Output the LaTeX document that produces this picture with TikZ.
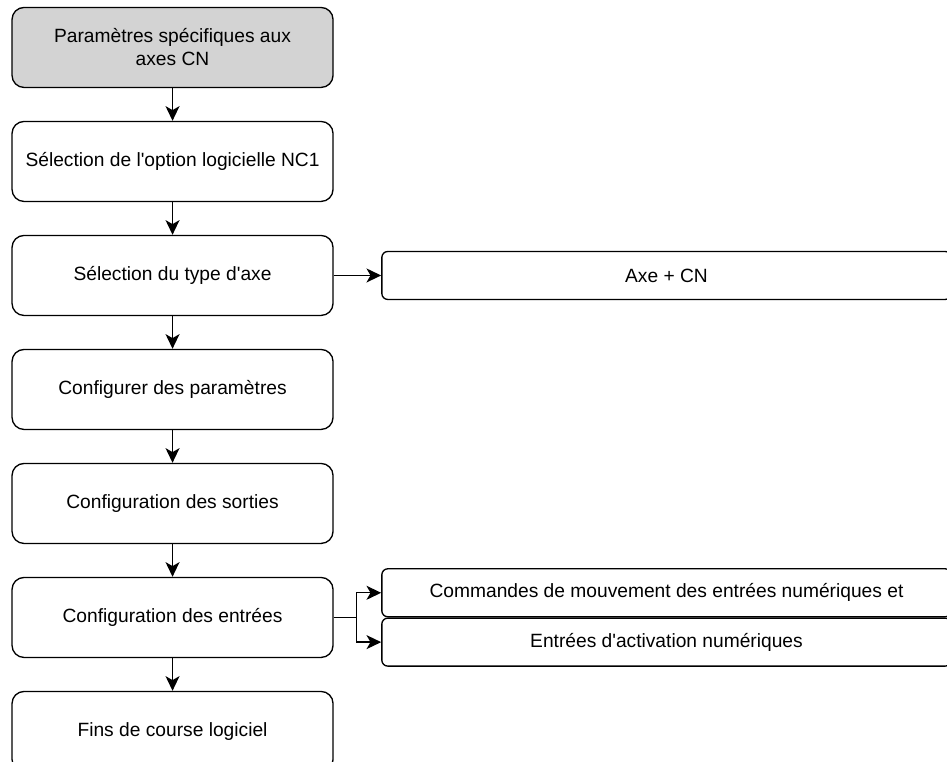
\documentclass[tikz,border=0pt]{standalone}
\usepackage{fontspec}
\setmainfont{Liberation Sans}
\usepackage{tikz}
\usetikzlibrary{positioning,arrows.meta}
\definecolor{headc}{HTML}{D3D3D3}
\tikzset{
  stepbox/.style={draw, line width=1pt, rounded corners=9pt, minimum width=240.75pt, minimum height=60pt, align=center, font=\fontsize{14.4}{17.3}\selectfont},
  headbox/.style={stepbox, fill=headc},
  sidebox/.style={draw, line width=1pt, rounded corners=4.5pt, minimum width=427pt, minimum height=36pt, font=\fontsize{14.4}{17.3}\selectfont},
  flow/.style={line width=1pt, -{Stealth[length=11pt, width=10.5pt, inset=3pt]}},
}

\begin{document}
\begin{tikzpicture}[node distance=24.5pt]
\useasboundingbox (0,0) rectangle (710.25pt,-571.5pt);
\node[headbox] (head) at (129.4pt,-35.6pt) {Paramètres spécifiques aux\\axes CN};
\node[stepbox, below=of head] (opt) {Sélection de l\textquotesingle option logicielle NC1};
\node[stepbox, below=of opt] (type) {Sélection du type d\textquotesingle axe};
\node[stepbox, below=of type] (par) {Configurer des paramètres};
\node[stepbox, below=of par] (out) {Configuration des sorties};
\node[stepbox, below=of out] (inp) {Configuration des entrées};
\node[stepbox, below=of inp] (lim) {Fins de course logiciel};

\node[sidebox, right=35.6pt of type] (axe) {Axe + CN};
\node[sidebox, above right=0pt and 35.6pt of inp.east] (cmd) {Commandes de mouvement des entrées numériques et};
\node[sidebox, below right=0pt and 35.6pt of inp.east] (ena) {Entrées d\textquotesingle activation numériques};

\draw[flow] (head) -- (opt);
\draw[flow] (opt) -- (type);
\draw[flow] (type) -- (par);
\draw[flow] (par) -- (out);
\draw[flow] (out) -- (inp);
\draw[flow] (inp) -- (lim);
\draw[flow] (type) -- (axe);
\draw[flow] (inp.east) -- ++(17.25pt,0) coordinate (fork) |- (cmd.west);
\draw[flow] (fork) |- (ena.west);
\end{tikzpicture}
\end{document}
